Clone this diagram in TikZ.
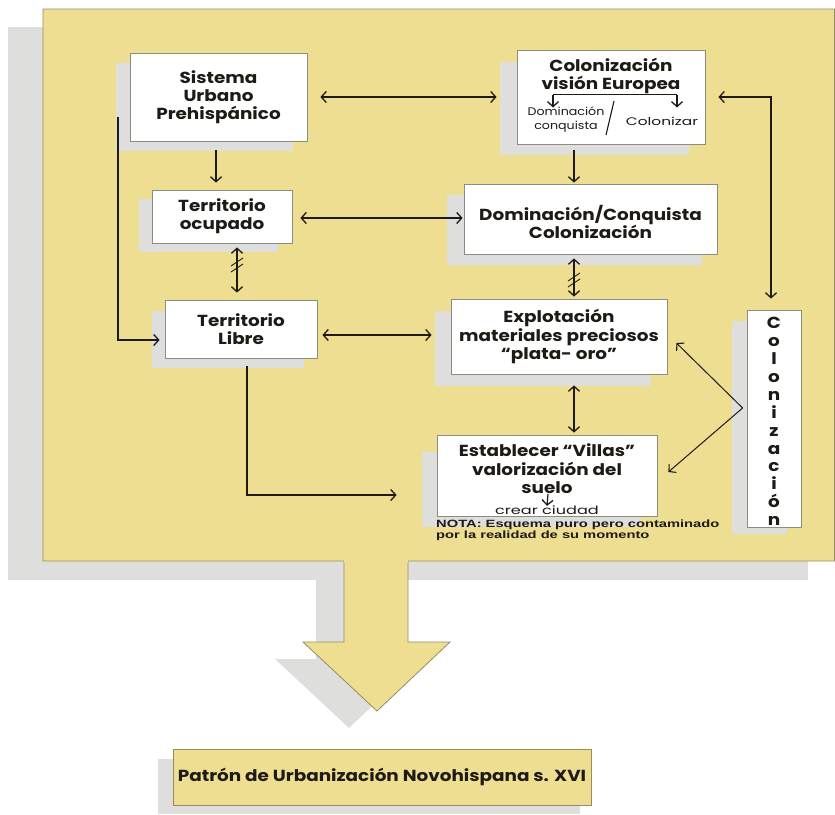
\documentclass[tikz,border=0pt]{standalone}
\usepackage{fontspec}
\setmainfont{Poppins}[FakeStretch=1.15]
\newfontfamily\widefont{Poppins}[FakeStretch=1.4]
\newfontfamily\notafont{Liberation Sans}[FakeStretch=1.4]
\usetikzlibrary{arrows.meta}
\definecolor{panel}{RGB}{237,222,146}
\definecolor{shadowgray}{RGB}{222,222,221}
\definecolor{rim}{RGB}{150,140,100}
\definecolor{boxrim}{RGB}{140,140,130}
\definecolor{ink}{RGB}{30,26,22}
\begin{document}
\begin{tikzpicture}[x=1pt,y=-1pt,
  box/.style={draw=boxrim, line width=0.8pt, fill=white, inner sep=0pt, align=center, text=ink},
  bigtxt/.style={font=\fontsize{16}{18.5}\selectfont\bfseries},
  midtxt/.style={font=\fontsize{16}{18}\selectfont\bfseries},
  smalltxt/.style={font=\fontsize{11}{14}\selectfont, text=ink, align=center, inner sep=0pt},
  conn/.style={draw=ink, line width=1.3pt, -{Straight Barb[length=5pt,width=11pt,line width=1.3pt]}},
  dconn/.style={draw=ink, line width=1.3pt, {Straight Barb[length=5pt,width=11pt,line width=1.3pt]}-{Straight Barb[length=5pt,width=11pt,line width=1.3pt]}},
  thinconn/.style={draw=ink, line width=1pt, -{Straight Barb[length=5pt,width=11pt,line width=1.1pt]}},
  tick/.style={draw=ink, line width=0.9pt}]
\useasboundingbox (0,0) rectangle (835,814);

% shadows of panel and arrow
\fill[shadowgray] (8,27) rectangle (808,580);
\fill[shadowgray] (316,578) -- (316,659) -- (275,659) -- (349,728) -- (422,659) -- (380,659) -- (380,578) -- cycle;
% panel with arrow
\filldraw[fill=panel, draw=rim, line width=0.8pt]
  (344,561) -- (43,561) -- (43,9) -- (834.5,9) -- (834.5,561) -- (408,561)
  -- (408,642) -- (450,642) -- (377,711) -- (303,642) -- (344,642) -- cycle;
\fill[panel] (344.4,555) rectangle (407.6,563);

% box shadows
\fill[shadowgray] (116,63) rectangle (293,151);
\fill[shadowgray] (139,199) rectangle (278,252);
\fill[shadowgray] (152,311) rectangle (304,368);
\fill[shadowgray] (500,62) rectangle (689,155);
\fill[shadowgray] (447,195) rectangle (702,265);
\fill[shadowgray] (435,311) rectangle (651,386);
\fill[shadowgray] (422,452) rectangle (641,527);
\fill[shadowgray] (732,321) rectangle (787,534);
\fill[shadowgray] (158,759) rectangle (580,814);

% boxes
\node[box, midtxt, minimum width=177pt, minimum height=88pt] (sis) at (218.5,97) {Sistema\\Urbano\\Prehispánico};
\node[box, midtxt, minimum width=140pt, minimum height=53pt] (ocup) at (222,216.5) {Territorio\\ocupado};
\node[box, midtxt, minimum width=152pt, minimum height=58pt] (libre) at (241,329) {Territorio\\Libre};
\node[box, minimum width=188pt, minimum height=94pt] (col) at (611,97) {};
\node[box, minimum width=253pt, minimum height=70pt] (dom) at (590.5,219) {};
\node[bigtxt, text=ink, align=center, inner sep=0pt] (domt) at (590.5,222) {Dominación/Conquista\\Colonización};
\node[box, bigtxt, minimum width=216pt, minimum height=75pt] (expl) at (559,336.5) {Explotación\\materiales preciosos\\“plata- oro”};
\node[box, minimum width=220pt, minimum height=81pt] (est) at (547,475.5) {};
\node[box, minimum width=54pt, minimum height=217pt] (vbox) at (774,418.5) {};
\node[draw=rim, line width=0.8pt, fill=panel, minimum width=418pt, minimum height=56pt, inner sep=0pt, text=ink,
  font=\fontsize{16}{18}\selectfont\bfseries] (pat) at (382,777) {Patrón de Urbanización Novohispana s. XVI};

% contents of Colonización visión Europea
\node[bigtxt, text=ink, align=center, inner sep=0pt] (colt) at (611,76) {Colonización\\visión Europea};
\coordinate (bl) at (553,94.5);
\coordinate (br) at (677,94.5);
\draw[ink, line width=1.2pt] (bl) -- (br);
\draw[conn, line width=1.2pt] (bl) -- ++(0,13);
\draw[conn, line width=1.2pt] (br) -- ++(0,13);
\node[smalltxt] (dc) at (566,120) {Dominación\\conquista};
\node[smalltxt, font=\widefont\fontsize{11}{14}\selectfont] (cz) at (662,121) {Colonizar};
\draw[tick, line width=1.1pt] (614,101) -- (606,135);

% contents of Establecer
\node[bigtxt, text=ink, align=center, inner sep=0pt] (estt) at (547,469) {Establecer “Villas”\\valorización del\\suelo};
\node[font=\widefont\fontsize{11.5}{12}\selectfont, text=ink, inner sep=0pt] (crear) at (547,510.5) {crear ciudad};
\draw[conn, line width=1.2pt] (548,494) -- (crear.north);

% vertical Colonización
\node[font=\fontsize{16}{17.9}\selectfont\bfseries, text=ink, align=center, inner sep=0pt] (vt) at (774,421.5)
  {C\\o\\l\\o\\n\\i\\z\\a\\c\\i\\ó\\n};

% NOTA
\node[font=\notafont\fontsize{10.5}{11.5}\selectfont\bfseries, text=ink, align=left, anchor=north west, inner sep=0pt] (nota) at (436,519.5)
  {NOTA: Esquema puro pero contaminado\\por la realidad de su momento};

% connectors
\draw[dconn, shorten <=13pt, shorten >=20pt] (sis.east) -- (col.west);
\draw[conn, shorten <=9pt, shorten >=7pt] ([xshift=-2.5pt]sis.south) -- ([xshift=-2.5pt]sis.south |- ocup.north);
\draw[dconn, shorten <=8pt, shorten >=1pt] ([yshift=-1.5pt]ocup.east) -- ([yshift=-1.5pt]ocup.east -| dom.west);
\draw[dconn, shorten <=4pt, shorten >=7pt] ([xshift=-4pt]libre.north |- ocup.south) -- ([xshift=-4pt]libre.north);
\draw[tick] (231,266) -- (243,258);
\draw[tick] (231,272) -- (243,264);
\coordinate (s0) at (118,117);
\draw[conn] (s0) |- ([xshift=-5pt,yshift=-11pt]libre.west);
\draw[dconn] ([xshift=5pt,yshift=-6pt]libre.east) -- ([xshift=-19pt,yshift=-6pt]libre.east -| expl.west);
\draw[conn] ([xshift=6pt,yshift=-8pt]libre.south) |- ([xshift=-40pt,yshift=-19.5pt]est.west);
\draw[conn, shorten <=6pt, shorten >=1pt] ([xshift=-37pt]col.south) -- ([xshift=-37pt]col.south |- dom.north);
\draw[dconn, shorten <=4pt, shorten >=2pt] ([xshift=-37pt]col.south |- dom.south) -- ([xshift=-37pt]col.south |- expl.north);
\draw[tick] (568,281) -- (580,273);
\draw[tick] (568,287) -- (580,279);
\draw[dconn] ([xshift=13pt]col.east) -| ([xshift=-3pt,yshift=11pt]vbox.north);
\draw[dconn, shorten <=11pt, shorten >=2pt] ([xshift=15pt]expl.south) -- ([xshift=15pt]expl.south |- est.north);
\coordinate (fork) at ([xshift=-4pt,yshift=10.5pt]vbox.west);
\draw[thinconn] (fork) -- ([xshift=9pt,yshift=-6.5pt]expl.east);
\draw[thinconn] (fork) -- ([xshift=11pt,yshift=3.5pt]est.east);
\end{tikzpicture}
\end{document}
